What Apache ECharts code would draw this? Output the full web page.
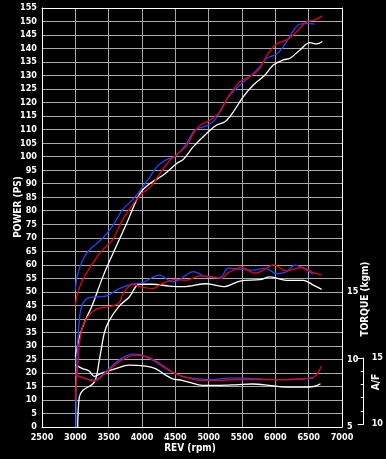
<!DOCTYPE html>
<html><head><meta charset="utf-8">
<script src="https://cdn.jsdelivr.net/npm/echarts@6/dist/echarts.min.js"></script>
<style>html,body{margin:0;padding:0;background:#000;}#c{width:386px;height:459px;}</style>
</head><body><div id="c"></div>
<script>
// ---------- POWER (PS) ----------
const bluePowerRpm = [3000,3030,3110,3210,3410,3560,3710,3860,3985,4110,4235,4360,4510,4670,4795,4970,5095,5220,5320,5470,5620,5770,5870,6020,6120,6245,6345,6470,6595];
const bluePower    = [50.6,56,61.8,65.5,69.8,74.4,80.4,84.1,87.9,92.2,96.6,98.8,100.3,104.9,109.9,111.4,113.6,119.1,122.8,126.5,129.6,133.3,136.4,138,140.7,145.6,148.7,149.3,149];
const redPowerRpm  = [3000,3040,3110,3260,3410,3560,3710,3860,3985,4135,4260,4410,4560,4670,4770,4870,5020,5170,5295,5470,5620,5745,5895,6020,6170,6320,6470,6595,6705];
const redPower     = [45,50,54.3,60.5,65.5,69.2,76.7,82.3,86,89.1,93.4,98.4,101.5,104,108.5,111.5,113.5,116.6,122.2,127.7,129.6,132,138.2,141.7,143.2,146.2,149.9,150.6,152.1];
const whitePowerRpm= [3000,3070,3150,3245,3420,3570,3770,3970,4120,4320,4520,4620,4770,4970,5120,5245,5370,5520,5670,5845,5970,6120,6220,6370,6520,6620,6705];
const whitePower   = [26,34,39.5,44.5,56,64.5,75.3,86.4,90.1,93.2,97.5,99,103.7,108.6,111.7,112.9,116.6,122.2,126.5,130.2,133.9,135.8,136.4,139.5,142.2,141.7,142.6];

// ---------- TORQUE (kgm) ----------
const blueTorqueRpm = [3010,3020,3060,3110,3210,3460,3660,3860,4010,4260,4460,4570,4660,4770,4970,5170,5295,5470,5670,5845,6020,6170,6295,6420,6570];
const blueTorque    = [5.0,9.4,12.96,14.1,14.58,14.68,15.24,15.58,15.68,16.24,15.74,15.92,16.24,16.5,16.1,16.05,16.75,16.68,16.6,16.75,16.35,16.5,16.98,16.75,16.3];
const redTorqueRpm  = [3000,3035,3085,3160,3310,3560,3660,3710,3860,3985,4160,4310,4510,4660,4870,5070,5195,5295,5495,5695,5820,5970,6170,6395,6570,6695];
const redTorque     = [6.95,9.46,11.96,12.96,13.7,13.96,14.2,14.8,15.56,15.36,15.24,15.62,15.92,15.86,16.18,16.1,16.0,16.42,16.8,16.38,16.6,17.0,16.55,16.8,16.42,16.25];
const whiteTorqueRpm= [3035,3060,3110,3285,3360,3435,3500,3660,3810,3960,4160,4410,4620,4970,5220,5470,5770,5920,6170,6420,6570,6695];
const whiteTorque   = [5.0,7.2,7.7,8.32,9.96,11.96,12.8,13.96,14.62,15.56,15.56,15.42,15.38,15.6,15.38,15.8,15.9,16.1,15.85,15.85,15.5,15.18];

// ---------- A/F ----------
const blueAfRpm = [3000,3160,3285,3460,3660,3860,4010,4210,4410,4610,4820,5070,5295,5520,5770,6070,6420,6595];
const blueAf    = [13.77,13.44,13.32,13.95,14.84,15.30,15.22,14.71,14.07,13.61,13.44,13.36,13.48,13.48,13.41,13.36,13.41,13.48];
const redAfRpm  = [3000,3150,3285,3460,3660,3910,4110,4310,4510,4685,4920,5170,5420,5670,5920,6170,6420,6595,6660,6705];
const redAf     = [13.68,13.46,13.25,13.87,14.71,15.22,15.05,14.46,13.82,13.51,13.31,13.31,13.36,13.36,13.36,13.36,13.41,13.56,13.87,14.38];
const whiteAfRpm= [3000,3110,3210,3285,3410,3610,3810,4060,4210,4310,4460,4610,4710,4920,5170,5420,5670,5920,6170,6420,6595,6695];
const whiteAf   = [14.48,14.20,14.02,13.61,13.87,14.20,14.46,14.38,14.20,13.87,13.44,13.31,13.17,12.93,12.93,12.97,13.03,12.93,12.79,12.79,12.84,13.05];

// ---------- axis settings ----------
const torqueLabels = [5,10,15];
const xTitle = 'REV (rpm)', powerTitle = 'POWER (PS)', torqueTitle = 'TORQUE (kgm)', afTitle = 'A/F';

const FONT = "'Liberation Sans Narrow','DejaVu Sans Condensed','Liberation Sans',sans-serif";
const BLUE = '#2244ff', RED = '#e60012', WHITE = '#ffffff';
const GRIDC = '#a9a9a9';

function pairs(xs, ys){ return xs.map((x,i)=>[x, ys[i]]); }
function line(name, xs, ys, color, xi, yi){
  return {type:'line', name, data:pairs(xs,ys), xAxisIndex:xi, yAxisIndex:yi,
    symbol:'none', showSymbol:false, smooth:0.35, clip: xi!==2,
    lineStyle:{color, width:1.3}, emphasis:{disabled:true}, z:3};
}
const lbl = {color:'#fff', fontSize:9, fontWeight:'bold', fontFamily:FONT, formatter:(v)=>String(v)};

const chart = echarts.init(document.getElementById('c'), null, {renderer:'canvas'});
chart.setOption({
  backgroundColor:'#000',
  animation:false,
  grid:[{left:42, right:44, top:8, bottom:32},{left:42, right:44, top:358, bottom:35}],
  xAxis:[
    {gridIndex:0, type:'value', min:2500, max:7000, interval:500,
     axisLine:{show:true, lineStyle:{color:'#fff', width:1}}, axisTick:{show:false},
     axisLabel:Object.assign({margin:6}, lbl),
     splitLine:{show:true, showMinLine:false, showMaxLine:false, lineStyle:{color:GRIDC, width:1}}},
    {gridIndex:0, type:'value', min:2500, max:7000, position:'top',
     axisLine:{show:true, lineStyle:{color:'#fff', width:1}}, axisTick:{show:false},
     axisLabel:{show:false}, splitLine:{show:false}},
    {gridIndex:1, type:'value', min:2500, max:7000, show:false}
  ],
  yAxis:[
    {gridIndex:0, type:'value', min:0, max:155, interval:5, position:'left',
     axisLine:{show:true, lineStyle:{color:'#fff', width:1}}, axisTick:{show:false},
     axisLabel:Object.assign({margin:5}, lbl),
     splitLine:{show:true, showMinLine:false, showMaxLine:false, lineStyle:{color:GRIDC, width:1}}},
    {gridIndex:0, type:'value', min:5, max:36, position:'right',
     axisLine:{show:true, lineStyle:{color:'#fff', width:1}}, axisTick:{show:false},
     axisLabel:Object.assign({margin:5, customValues:torqueLabels}, lbl),
     splitLine:{show:false}},
    {gridIndex:1, type:'value', min:10, max:15, interval:5, position:'right', offset:23,
     axisLine:{show:true, lineStyle:{color:'#fff', width:1}},
     axisTick:{show:true, inside:true, length:6, lineStyle:{color:'#fff', width:1}},
     minorTick:{show:true, splitNumber:5, length:3, lineStyle:{color:'#fff', width:1}},
     axisLabel:Object.assign({margin:8}, lbl),
     splitLine:{show:false}, minorSplitLine:{show:false}}
  ],
  graphic:[
    {type:'text', x:18, y:207, rotation:Math.PI/2, style:{text:powerTitle, fill:'#fff', font:"bold 10px "+FONT, textAlign:'center', textVerticalAlign:'middle'}},
    {type:'text', x:190, y:448, style:{text:xTitle, fill:'#fff', font:"bold 10px "+FONT, textAlign:'center', textVerticalAlign:'middle'}},
    {type:'text', x:365, y:299, rotation:Math.PI/2, style:{text:torqueTitle, fill:'#fff', font:"bold 10px "+FONT, textAlign:'center', textVerticalAlign:'middle'}},
    {type:'text', x:376, y:382, rotation:Math.PI/2, style:{text:afTitle, fill:'#fff', font:"bold 10px "+FONT, textAlign:'center', textVerticalAlign:'middle'}}
  ],
  series:[
    line('power white', whitePowerRpm, whitePower, WHITE, 0, 0),
    line('torque white', whiteTorqueRpm, whiteTorque, WHITE, 0, 1),
    line('af white', whiteAfRpm, whiteAf, WHITE, 2, 2),
    line('power blue', bluePowerRpm, bluePower, BLUE, 0, 0),
    line('torque blue', blueTorqueRpm, blueTorque, BLUE, 0, 1),
    line('af blue', blueAfRpm, blueAf, BLUE, 2, 2),
    line('power red', redPowerRpm, redPower, RED, 0, 0),
    line('torque red', redTorqueRpm, redTorque, RED, 0, 1),
    line('af red', redAfRpm, redAf, RED, 2, 2)
  ]
});
</script></body></html>
